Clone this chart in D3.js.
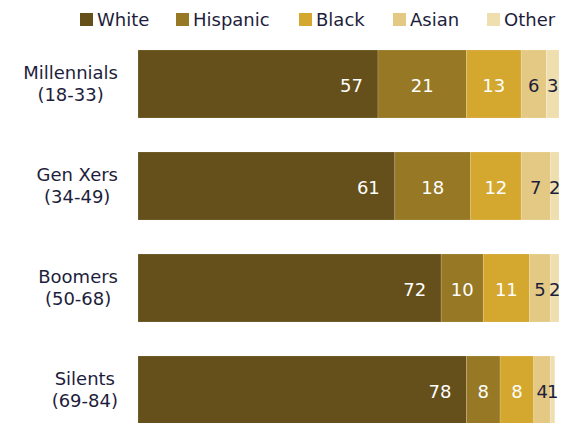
<!DOCTYPE html>
<html><head><meta charset="utf-8">
<script src="https://cdn.jsdelivr.net/npm/d3@7"></script>
<style>body{margin:0;background:#fff}svg{display:block}text{font-family:"DejaVu Sans",Verdana,sans-serif}</style>
</head><body><svg id="c" width="568" height="423"></svg>
<script>
const generations = ["Millennials", "Gen Xers", "Boomers", "Silents"];
const ageRanges = ["(18-33)", "(34-49)", "(50-68)", "(69-84)"];
const races = ["White", "Hispanic", "Black", "Asian", "Other"];
const white = [57, 61, 72, 78];
const hispanic = [21, 18, 10, 8];
const black = [13, 12, 11, 8];
const asian = [6, 7, 5, 4];
const other = [3, 2, 2, 1];
const colors = ["#654f1b", "#977824", "#d4a82f", "#e3c983", "#efdfae"];

const rows = generations.map((g, i) => ({gen: g, age: ageRanges[i], White: white[i], Hispanic: hispanic[i], Black: black[i], Asian: asian[i], Other: other[i]}));
const series = d3.stack().keys(races)(rows);

const svg = d3.select("#c");
const x = d3.scaleLinear().domain([0, 100]).range([138, 559]);
const y = d3.scaleBand().domain(generations).range([50, 424]).paddingInner(1/3).paddingOuter(0);
const color = d3.scaleOrdinal().domain(races).range(colors);

// legend
const legX = [80, 176, 299, 393, 487];
const leg = svg.append("g").selectAll("g").data(races).join("g")
  .attr("transform", (d, i) => `translate(${legX[i]},13)`);
leg.append("rect").attr("width", 13).attr("height", 13).attr("fill", d => color(d));
leg.append("text").attr("x", 17).attr("y", 13).attr("font-size", 18).attr("fill", "#1e1e3c").text(d => d);

// bars
const g = svg.append("g");
series.forEach((s, si) => {
  g.selectAll(null).data(s).join("rect")
    .attr("x", d => x(d[0]))
    .attr("y", d => y(d.data.gen))
    .attr("width", d => x(d[1]) - x(d[0]))
    .attr("height", y.bandwidth())
    .attr("fill", color(s.key))
    .attr("stroke", "rgba(255,255,255,0.25)")
    .attr("stroke-width", 0.6);
  g.selectAll(null).data(s).join("text")
    .attr("x", d => si === 0 ? x(d[1]) - 15 : (x(d[0]) + x(d[1])) / 2)
    .attr("y", d => y(d.data.gen) + y.bandwidth() / 2 + 8)
    .attr("text-anchor", si === 0 ? "end" : "middle")
    .attr("font-size", 18)
    .attr("fill", si >= 3 ? "#1e1e3c" : "#fff")
    .text(d => d[1] - d[0]);
});

// category labels
rows.forEach(r => {
  const t = svg.append("g");
  const cy = y(r.gen) + y.bandwidth() / 2;
  const t1 = t.append("text").attr("y", cy - 5).attr("font-size", 18).attr("fill", "#1e1e3c").attr("text-anchor", "middle").text(r.gen);
  const t2 = t.append("text").attr("y", cy + 17).attr("font-size", 18).attr("fill", "#1e1e3c").attr("text-anchor", "middle").text(r.age);
  const w = Math.max(t1.node().getComputedTextLength(), t2.node().getComputedTextLength());
  const cx = 118 - w / 2;
  t1.attr("x", cx); t2.attr("x", cx);
});
</script></body></html>
